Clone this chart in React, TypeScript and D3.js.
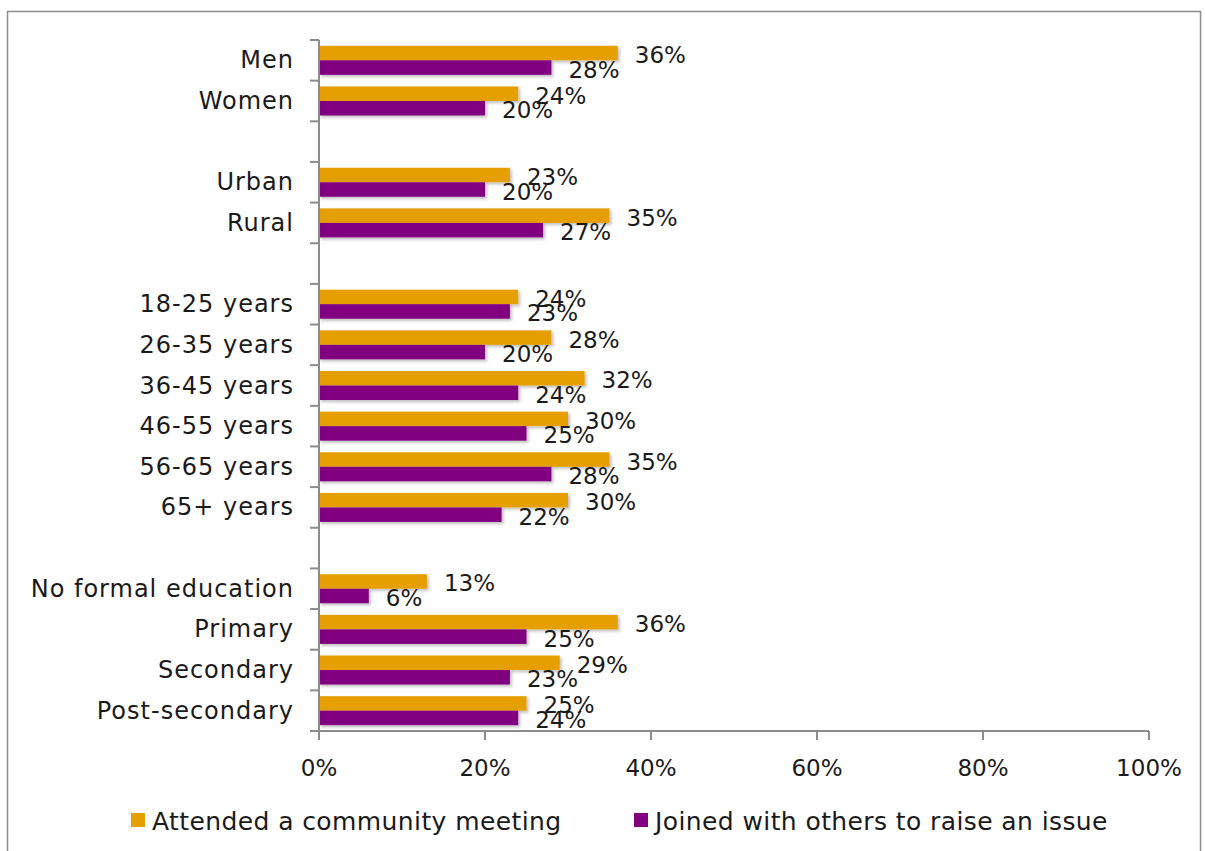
import { scaleBand, scaleLinear } from "d3";

const totalWidth = 1205;
const totalHeight = 851;

// categories top to bottom; blank entries are the empty spacer slots
const categories = [
  "Men",
  "Women",
  "",
  "Urban",
  "Rural",
  " ",
  "18-25 years",
  "26-35 years",
  "36-45 years",
  "46-55 years",
  "56-65 years",
  "65+ years",
  "  ",
  "No formal education",
  "Primary",
  "Secondary",
  "Post-secondary",
];
const attended = [36, 24, null, 23, 35, null, 24, 28, 32, 30, 35, 30, null, 13, 36, 29, 25];
const joined = [28, 20, null, 20, 27, null, 23, 20, 24, 25, 28, 22, null, 6, 25, 23, 24];
const xTicks = [0, 20, 40, 60, 80, 100];
const seriesNames = ["Attended a community meeting", "Joined with others to raise an issue"];
const seriesColors = ["#E69F00", "#800080"];

const plotLeft = 319;
const plotRight = 1149;
const plotTop = 40;
const plotBottom = 731;
const font = "'DejaVu Sans', sans-serif";

export default function App() {
  const x = scaleLinear().domain([0, 100]).range([plotLeft, plotRight]);
  const y = scaleBand<string>().domain(categories).range([plotTop, plotBottom]);
  const step = y.step();
  const barH = step * 0.357;
  const pad = (step - barH * 2) / 2;
  const series = [attended, joined];

  return (
    <svg
      width={totalWidth}
      height={totalHeight}
      style={{ position: "absolute", left: 0, top: 0 }}
      fontFamily={font}
    >
      <defs>
        <filter id="shadow" x="-5%" y="-30%" width="110%" height="180%">
          <feDropShadow dx="2" dy="2" stdDeviation="1.5" floodColor="#000" floodOpacity="0.25" />
        </filter>
      </defs>
      <rect x={0} y={0} width={totalWidth} height={totalHeight} fill="white" />
      <rect x={7.5} y={11.5} width={1193} height={900} fill="white" stroke="#8c8c8c" strokeWidth={1.5} />

      {/* bars */}
      <g filter="url(#shadow)">
        {categories.map((c, i) =>
          series.map((s, k) => {
            const v = s[i];
            if (v === null) return null;
            return (
              <rect
                key={`${i}-${k}`}
                x={x(0)}
                y={(y(c) ?? 0) + pad + k * barH}
                width={x(v) - x(0)}
                height={barH}
                fill={seriesColors[k]}
              />
            );
          }),
        )}
      </g>

      {/* y axis */}
      <line x1={x(0)} x2={x(0)} y1={plotTop} y2={plotBottom} stroke="#8c8c8c" strokeWidth={2} />
      {categories.map((c, i) => (
        <line key={`yt${i}`} x1={x(0) - 9} x2={x(0)} y1={y(c) ?? 0} y2={y(c) ?? 0} stroke="#8c8c8c" strokeWidth={2} />
      ))}
      {categories.map((c, i) =>
        c.trim() ? (
          <text
            key={`yl${i}`}
            x={294}
            y={(y(c) ?? 0) + step / 2}
            textAnchor="end"
            dominantBaseline="central"
            fontSize={24}
            letterSpacing={1}
            fill="#1a1a1a"
          >
            {c}
          </text>
        ) : null,
      )}

      {/* x axis */}
      <line x1={x(0) - 9} x2={x(100)} y1={plotBottom} y2={plotBottom} stroke="#8c8c8c" strokeWidth={2} />
      {xTicks.map((t) => (
        <g key={`xt${t}`}>
          <line x1={x(t)} x2={x(t)} y1={plotBottom} y2={plotBottom + 9} stroke="#8c8c8c" strokeWidth={2} />
          <text x={x(t)} y={plotBottom + 37} textAnchor="middle" dominantBaseline="central" fontSize={23} fill="#1a1a1a">
            {`${t}%`}
          </text>
        </g>
      ))}

      {/* data labels */}
      {categories.map((c, i) =>
        series.map((s, k) => {
          const v = s[i];
          if (v === null) return null;
          return (
            <text
              key={`dl${i}-${k}`}
              x={x(v) + 17}
              y={(y(c) ?? 0) + pad + k * barH + barH / 2 + 2}
              dominantBaseline="central"
              fontSize={23}
              fill="#1a1a1a"
            >
              {`${v}%`}
            </text>
          );
        }),
      )}

      {/* legend */}
      {seriesNames.map((name, k) => {
        const lx = k === 0 ? 131 : 634;
        return (
          <g key={`lg${k}`}>
            <rect x={lx} y={813} width={14} height={14} fill={seriesColors[k]} />
            <text x={lx + 21} y={821} dominantBaseline="central" fontSize={25} letterSpacing={0.4} fill="#1a1a1a">
              {name}
            </text>
          </g>
        );
      })}
    </svg>
  );
}
